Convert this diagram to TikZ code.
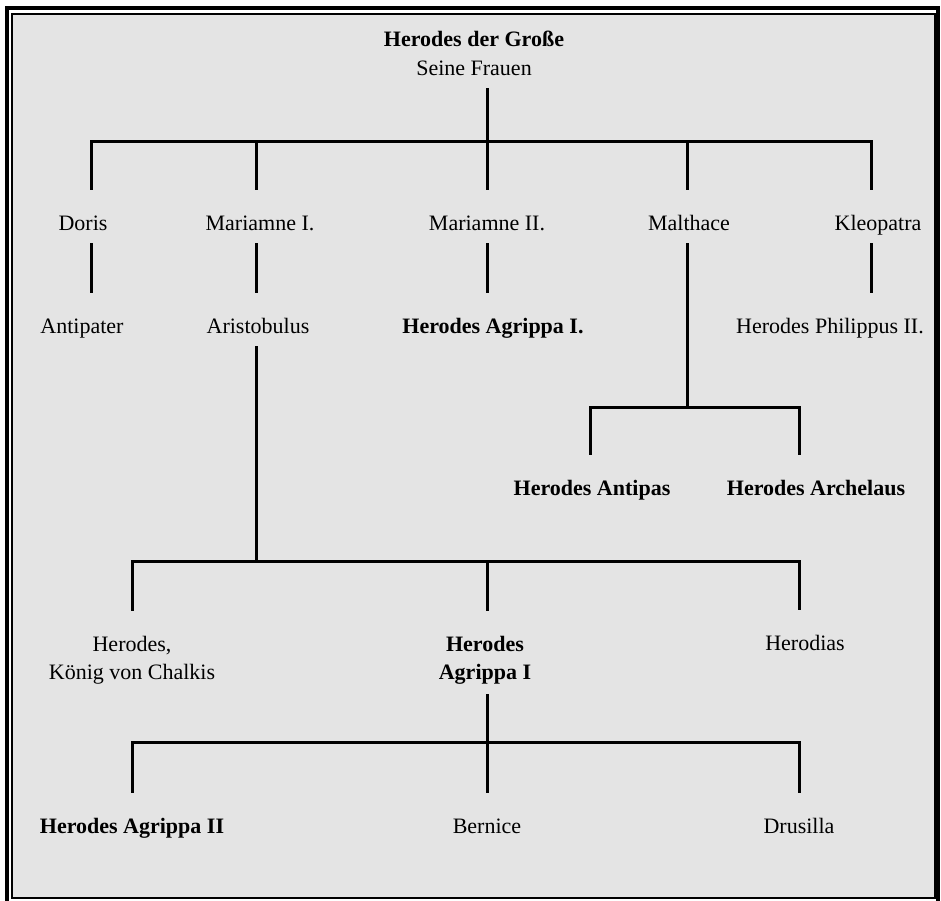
\documentclass[tikz,border=0pt]{standalone}
\usepackage{fontspec}
\setmainfont{Liberation Serif}
\definecolor{panel}{RGB}{228,228,228}
\tikzset{
  person/.style={inner sep=0pt, text height=40pt, text depth=13pt, anchor=base},
  twoline/.style={inner sep=0pt, align=center},
  famline/.style={line width=3pt},
}
\begin{document}
\begin{tikzpicture}[x=1pt, y=-1pt, font=\fontsize{22}{28}\selectfont]
  \useasboundingbox (0,0) rectangle (941,900);
  \fill[white] (0,0) rectangle (941,900);
  % frame
  \draw[line width=4pt] (7,8) rectangle (938,903);
  \draw[fill=panel, line width=2pt] (11.5,14) rectangle (935,897.5);

  % Herodes and his wives
  \node[anchor=base, inner sep=0pt] (herodes) at (474,46) {\textbf{Herodes der Große}};
  \node[anchor=base, inner sep=0pt, text depth=13pt] (frauen) at (474,75) {Seine Frauen};

  \node[person] (doris) at (83,230) {Doris};
  \node[person] (marI) at (260,230) {Mariamne I.};
  \node[person] (marII) at (487,230) {Mariamne II.};
  \node[person] (malth) at (689,230) {Malthace};
  \node[person] (kleo) at (878,230) {Kleopatra};

  \node[person] (antipater) at (82,333) {Antipater};
  \node[person] (aristob) at (258,333) {Aristobulus};
  \node[person] (agrI) at (493,333) {\textbf{Herodes Agrippa I.}};
  \node[person] (philippus) at (830,333) {Herodes Philippus II.};

  \node[person] (antipas) at (592,495) {\textbf{Herodes Antipas}};
  \node[person] (archelaus) at (816,495) {\textbf{Herodes Archelaus}};

  \node[twoline] (chalkis) at (132,660) {Herodes,\\König von Chalkis};
  \node[twoline] (agrippa) at (485,660) {\textbf{Herodes}\\\textbf{Agrippa I}};
  \node[person] (herodias) at (805,650) {Herodias};

  \node[person] (agrII) at (132,833) {\textbf{Herodes Agrippa II}};
  \node[person] (bernice) at (487,833) {Bernice};
  \node[person] (drusilla) at (799,833) {Drusilla};

  % first generation
  \foreach \n/\x in {doris/91, marI/256, marII/487, malth/687, kleo/871}
    \coordinate (w-\n) at (\x,141);
  \draw[famline] (w-doris |- doris.north) -- (w-doris) -- (w-kleo) -- (w-kleo |- kleo.north);
  \draw[famline] (w-marII |- frauen.south) -- (w-marII);
  \foreach \n in {marI, marII, malth}
    \draw[famline] (w-\n) -- (w-\n |- \n.north);
  \foreach \n/\k in {doris/antipater, marI/aristob, marII/agrI, kleo/philippus}
    \draw[famline] (w-\n |- \n.south) -- (w-\n |- \k.north);

  % sons of Malthace
  \coordinate (m-join) at (687,407);
  \coordinate (m-antipas) at (590,407);
  \coordinate (m-arch) at (799,407);
  \draw[famline] (w-malth |- malth.south) -- (m-join);
  \draw[famline] (m-antipas |- antipas.north) -- (m-antipas) -- (m-arch) -- (m-arch |- archelaus.north);

  % children of Aristobulus
  \coordinate (a-join) at (256,561);
  \coordinate (a-chalkis) at (132,561);
  \coordinate (a-agrippa) at (487,561);
  \coordinate (a-herodias) at (799,561);
  \draw[famline] (w-marI |- aristob.south) -- (a-join);
  \draw[famline, shorten <=25pt] (a-chalkis |- chalkis.north) -- (a-chalkis) -- (a-herodias) -- (a-herodias |- herodias.north);
  \draw[famline, shorten >=25pt] (a-agrippa) -- (a-agrippa |- agrippa.north);

  % children of Agrippa I
  \coordinate (g-agrII) at (132,742);
  \coordinate (g-bernice) at (487,742);
  \coordinate (g-drusilla) at (799,742);
  \draw[famline, shorten <=10pt] (g-bernice |- agrippa.south) -- (g-bernice);
  \draw[famline] (g-agrII |- agrII.north) -- (g-agrII) -- (g-drusilla) -- (g-drusilla |- drusilla.north);
  \draw[famline] (g-bernice) -- (g-bernice |- bernice.north);
\end{tikzpicture}
\end{document}
